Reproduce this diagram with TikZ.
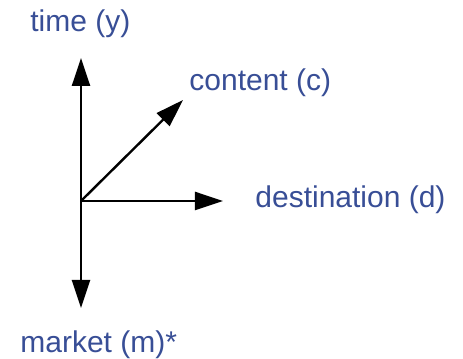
\documentclass[tikz,border=0pt]{standalone}
\usepackage{fontspec}
\setmainfont{Liberation Sans}
\usetikzlibrary{positioning,arrows.meta}
\definecolor{axislabel}{RGB}{56,78,150}
\tikzset{
  axis/.style={line width=1.2pt,-{Triangle[length=14pt,width=9pt]}},
  lbl/.style={anchor=base west,inner sep=0pt,text=axislabel,font=\fontsize{15}{18}\selectfont}
}

\begin{document}
\begin{tikzpicture}[x=0.5pt,y=0.5pt]
  \useasboundingbox (0,0) rectangle (463,359);
  \coordinate (O) at (81,158);
  \coordinate (ytip) at (81,301);
  \coordinate (mtip) at (81,51);
  \coordinate (dtip) at (223,158);
  \coordinate (ctip) at (183,259);
  \node[lbl] (time) at (30,327) {time (y)};
  \node[lbl] (content) at (189,268) {content (c)};
  \node[lbl] (dest) at (255,151) {destination (d)};
  \node[lbl] (market) at (20,6) {market (m)*};
  \draw[axis] (O) -- (ytip);
  \draw[axis] (O) -- (mtip);
  \draw[axis] (O) -- (dtip);
  \draw[axis] (O) -- (ctip);
\end{tikzpicture}
\end{document}
